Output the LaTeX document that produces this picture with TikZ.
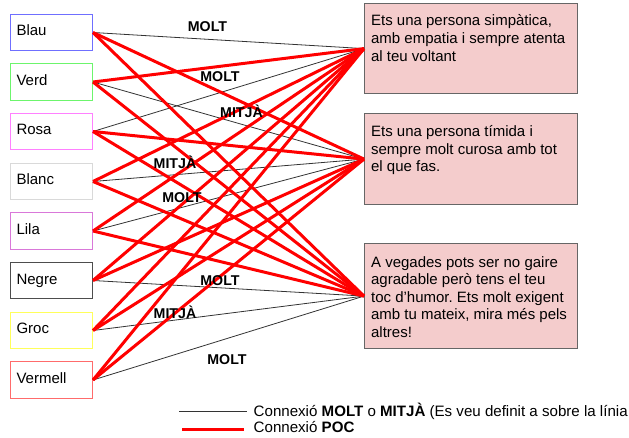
\documentclass[tikz,border=0pt]{standalone}
\usepackage{fontspec}
\setmainfont{Liberation Sans}
\definecolor{cblau}{HTML}{6F6FFF}
\definecolor{cverd}{HTML}{6CF56C}
\definecolor{crosa}{HTML}{FF80FF}
\definecolor{cblanc}{HTML}{D9D9D9}
\definecolor{clila}{HTML}{D978D9}
\definecolor{cnegre}{HTML}{4D4D4D}
\definecolor{cgroc}{HTML}{FFFF5A}
\definecolor{cvermell}{HTML}{FF6B6B}
\definecolor{rfill}{HTML}{F4CCCC}
\definecolor{rborder}{HTML}{666666}
\newcommand{\rtxt}{\fontsize{15}{17.6}\selectfont}
\frenchspacing
\begin{document}
\begin{tikzpicture}[x=1pt,y=-1pt,
  lbox/.style={draw=#1, line width=1pt, minimum width=82pt, minimum height=36.5pt,
    text width=70pt, inner xsep=6pt, inner ysep=0pt, align=left,
    font=\fontsize{15}{18}\selectfont, text height=11pt, text depth=4pt, anchor=west},
  rbox/.style={draw=rborder, fill=rfill, line width=1.2pt, inner xsep=6.5pt,
    inner ysep=0pt, anchor=north west},
  thinline/.style={draw=black!80, line width=0.8pt},
  redline/.style={draw=red, line width=3pt},
  lbl/.style={font=\bfseries\fontsize{14.2}{17}\selectfont, anchor=base, inner sep=0pt},
  legtext/.style={font=\fontsize{15.1}{18}\selectfont, anchor=base west, inner sep=0pt}
]
\useasboundingbox (0,0) rectangle (629,438);

% left boxes
\node[lbox=cblau]    (blau)    at (10,32.5)  {Blau};
\node[lbox=cverd]    (verd)    at (10,82)    {Verd};
\node[lbox=crosa]    (rosa)    at (10,131.5) {Rosa};
\node[lbox=cblanc]   (blanc)   at (10,181.5) {Blanc};
\node[lbox=clila]    (lila)    at (10,231)   {Lila};
\node[lbox=cnegre]   (negre)   at (10,280.5) {Negre};
\node[lbox=cgroc]    (groc)    at (10,330.5) {Groc};
\node[lbox=cvermell] (vermell) at (10,380)   {Vermell};

% right boxes
\node[rbox] (r1) at (364,3) {\parbox[c][90pt][t]{200pt}{\rtxt\rule{0pt}{22.3pt}%
  \mbox{Ets una persona simpàtica,}\\\mbox{amb empatia i sempre atenta}\\\mbox{al teu voltant}}};
\node[rbox] (r2) at (364,113) {\parbox[c][91pt][t]{200pt}{\rtxt\rule{0pt}{23pt}%
  \mbox{Ets una persona tímida i}\\\mbox{sempre molt curosa amb tot}\\\mbox{el que fas.}}};
\node[rbox] (r3) at (364,243) {\parbox[c][105pt][t]{200pt}{\rtxt\rule{0pt}{23.5pt}%
  \mbox{A vegades pots ser no gaire}\\\mbox{agradable però tens el teu}\\\mbox{toc d’humor. Ets molt exigent}\\\mbox{amb tu mateix, mira més pels}\\\mbox{altres!}}};

% thin connectors (MOLT / MITJA)
\draw[thinline] (blau.east) -- (r1.west);
\draw[thinline] (verd.east) -- (r2.west);
\draw[thinline] (rosa.east) -- (r1.west);
\draw[thinline] (blanc.east) -- (r2.west);
\draw[thinline] (lila.east) -- (r2.west);
\draw[thinline] (negre.east) -- (r3.west);
\draw[thinline] (groc.east) -- (r3.west);
\draw[thinline] (vermell.east) -- (r3.west);

% red connectors (POC)
\draw[redline] (blau.east) -- (r2.west);
\draw[redline] (blau.east) -- (r3.west);
\draw[redline] (verd.east) -- (r1.west);
\draw[redline] (verd.east) -- (r3.west);
\draw[redline] (rosa.east) -- (r2.west);
\draw[redline] (rosa.east) -- (r3.west);
\draw[redline] (blanc.east) -- (r1.west);
\draw[redline] (blanc.east) -- (r3.west);
\draw[redline] (lila.east) -- (r1.west);
\draw[redline] (lila.east) -- (r3.west);
\draw[redline] (negre.east) -- (r1.west);
\draw[redline] (negre.east) -- (r2.west);
\draw[redline] (groc.east) -- (r1.west);
\draw[redline] (groc.east) -- (r2.west);
\draw[redline] (vermell.east) -- (r1.west);
\draw[redline] (vermell.east) -- (r2.west);

% labels
\node[lbl] (m1) at (207.5,32) {MOLT};
\node[lbl] (m2) at (220,82) {MOLT};
\node[lbl] (m3) at (241.5,118) {MITJÀ};
\node[lbl] (m4) at (175,169) {MITJÀ};
\node[lbl] (m5) at (182,203) {MOLT};
\node[lbl] (m6) at (220,286) {MOLT};
\node[lbl] (m7) at (175,318) {MITJÀ};
\node[lbl] (m8) at (227,364) {MOLT};

% legend
\coordinate (k1) at (179,411);
\coordinate (k2) at (247,411);
\coordinate (k3) at (182,429);
\coordinate (k4) at (244,429);
\draw[thinline] (k1) -- (k2);
\draw[redline] (k3) -- (k4);
\node[legtext] (leg1) at (253.5,416) {Connexió \textbf{MOLT} o \textbf{MITJÀ} (Es veu definit a sobre la línia};
\node[legtext] (leg2) at (253.5,432.5) {Connexió \textbf{POC}};
\end{tikzpicture}
\end{document}
